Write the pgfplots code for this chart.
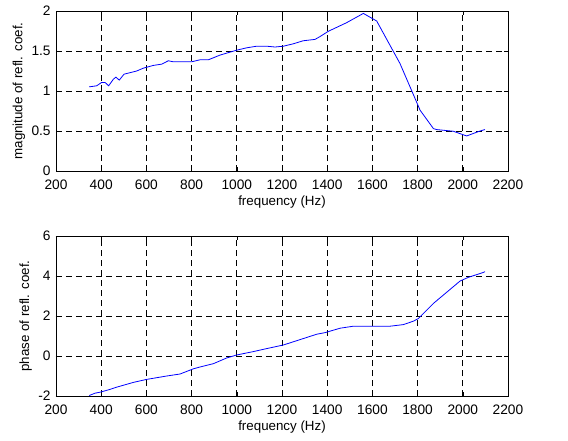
\documentclass[border=0pt]{standalone}
\usepackage{fontspec}
\setmainfont{Liberation Sans}
\usepackage{pgfplots}
\pgfplotsset{compat=1.18}

\pgfplotsset{
  matlab/.style={
    scale only axis,
    width=339pt, height=120pt,
    xmin=200, xmax=2200,
    xtick={200,400,...,2200},
    xmajorgrids, ymajorgrids,
    grid style={black, dash pattern=on 4.5pt off 3pt, line width=0.5pt},
    axis line style={black, line width=0.6pt},
    tick align=inside,
    major tick length=3pt,
    tick style={black},
    no markers,
    /pgf/number format/assume math mode=true,
    /pgf/number format/1000 sep={},
    ticklabel style={font=\fontsize{10.3}{12}\selectfont},
    xticklabel style={yshift=-2.8pt},
    yticklabel style={xshift=-0.5pt},
    label style={font=\fontsize{10}{12}\selectfont},
    xlabel={frequency (Hz)},
    xlabel style={yshift=2pt},
    ylabel style={yshift=-2pt},
  }
}

\begin{document}
\begin{tikzpicture}
\useasboundingbox (0,0) rectangle (426pt,330pt);

% magnitude
\begin{axis}[matlab, at={(42pt,201.75pt)}, anchor=south west,
    ymin=0, ymax=2, ytick={0,0.5,1,1.5,2},
    ylabel={magnitude of refl. coef.}]
\addplot[blue, line width=0.6pt] coordinates {
(347,1.052) (380,1.065) (402,1.107) (417,1.107) (433,1.065) (454,1.148)
(465,1.173) (480,1.136) (501,1.21) (557,1.25) (587,1.286) (631,1.32)
(668,1.336) (697,1.378) (719,1.365) (800,1.365) (837,1.39) (874,1.39)
(926,1.449) (999,1.51) (1044,1.54) (1088,1.56) (1132,1.56) (1169,1.55)
(1206,1.56) (1250,1.59) (1294,1.628) (1346,1.645) (1368,1.68) (1404,1.745)
(1486,1.854) (1560,1.97) (1619,1.875) (1722,1.344) (1811,0.76) (1870,0.53)
(1884,0.518) (1958,0.497) (2017,0.438) (2076,0.5) (2098,0.518)
};
\end{axis}

% phase
\begin{axis}[matlab, at={(42pt,33pt)}, anchor=south west,
    ymin=-2, ymax=6, ytick={-2,0,2,4,6},
    ylabel={phase of refl. coef.}]
\addplot[blue, line width=0.6pt] coordinates {
(347,-1.975) (373,-1.858) (395,-1.81) (439,-1.67) (468,-1.56) (542,-1.32)
(601,-1.17) (690,-1.0) (749,-0.9) (808,-0.64) (837,-0.55) (896,-0.385)
(955,-0.1) (999,0.05) (1073,0.22) (1132,0.37) (1206,0.55) (1280,0.82)
(1354,1.09) (1391,1.17) (1457,1.39) (1516,1.49) (1678,1.49) (1737,1.57)
(1781,1.74) (1803,1.87) (1870,2.63) (1988,3.75) (2024,3.93) (2091,4.18)
(2098,4.22)
};
\end{axis}
\end{tikzpicture}
\end{document}
